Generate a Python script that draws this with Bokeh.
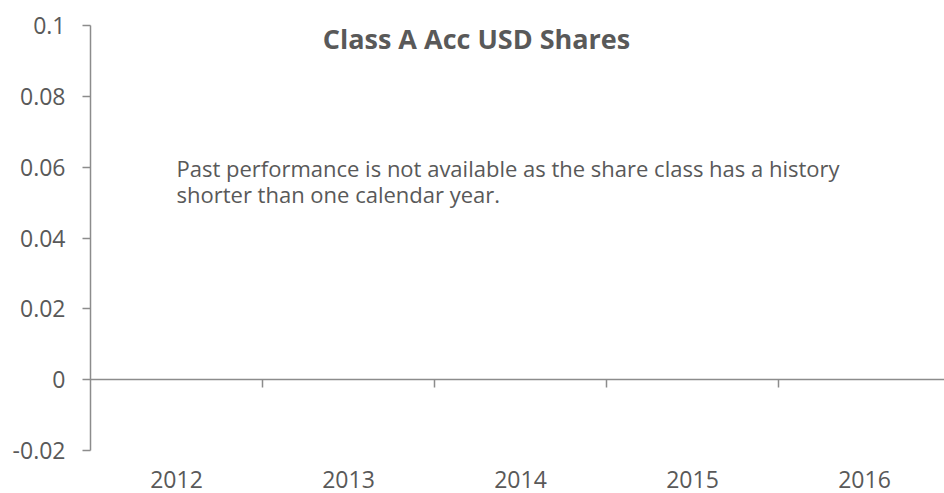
from bokeh.plotting import figure
from bokeh.models import (Range1d, LinearAxis, FixedTicker, CustomJSTickFormatter, Label)
from bokeh.embed import file_html
from bokeh.resources import INLINE

# ---- data ----
years = ["2012", "2013", "2014", "2015", "2016"]
returns = [None, None, None, None, None]   # no performance data available
y_ticks = [-0.02, 0.0, 0.02, 0.04, 0.06, 0.08, 0.1]
title_text = "Class A Acc USD Shares"
note_lines = ["Past performance is not available as the share class has a history",
              "shorter than one calendar year."]

FONT = "Open Sans"
TXT = "#595959"
AX = "#8c8c8c"

n = len(years)
x_end = (944 - 90) / 172.0
y_min, y_max = y_ticks[0], y_ticks[-1]
px_per_unit = 425.0 / (y_max - y_min)
y_bottom = y_max - 468.0 / px_per_unit

p = figure(width=944, height=493, output_backend="svg", toolbar_location=None,
           x_axis_location=None, x_range=Range1d(0, x_end),
           y_range=Range1d(y_bottom, y_max),
           min_border_left=90, min_border_right=0, min_border_top=25,
           min_border_bottom=0, outline_line_color=None,
           background_fill_color="white", border_fill_color="white")
for g in p.grid:
    g.visible = False

# y axis
ya = p.yaxis[0]
ya.bounds = (y_min, y_max)
ya.ticker = FixedTicker(ticks=y_ticks)
ya.formatter = CustomJSTickFormatter(code="return String(Math.round(tick*100)/100);")
ya.axis_line_color = AX
ya.axis_line_width = 1.5
ya.major_tick_line_color = AX
ya.major_tick_line_width = 1.5
ya.major_tick_in = 0
ya.major_tick_out = 8
ya.minor_tick_line_color = None
ya.major_label_standoff = 17
ya.major_label_text_font = FONT
ya.major_label_text_font_size = "23px"
ya.major_label_text_color = TXT

# zero line axis with category boundary ticks
za = LinearAxis(fixed_location=0, ticker=FixedTicker(ticks=list(range(1, n))),
                axis_line_color=AX, axis_line_width=1.5,
                major_tick_line_color=AX, major_tick_line_width=1.5,
                major_tick_in=0, major_tick_out=8, minor_tick_line_color=None,
                major_label_text_color=None, major_label_text_font_size="1px")
p.add_layout(za, "below")

# category labels axis at bottom
cat_ticks = [i + 0.5 for i in range(n)]
la = LinearAxis(fixed_location=y_min, ticker=FixedTicker(ticks=cat_ticks),
                major_label_overrides={t: y for t, y in zip(cat_ticks, years)},
                axis_line_color=None, major_tick_line_color=None,
                minor_tick_line_color=None, major_tick_in=0, major_tick_out=0,
                major_label_standoff=20, major_label_text_font=FONT,
                major_label_text_font_size="23px", major_label_text_color=TXT)
p.add_layout(la, "below")

def ypx(px):
    return y_max - (px - 25) / px_per_unit

def xpx(px):
    return (px - 90) / 172.0

p.add_layout(Label(x=xpx(476), y=ypx(38), text=title_text, text_align="center",
                   text_baseline="middle", text_font=FONT, text_font_size="27px",
                   text_font_style="bold", text_color=TXT))
p.add_layout(Label(x=xpx(176), y=ypx(167), text=note_lines[0], text_align="left",
                   text_baseline="alphabetic", text_font=FONT, text_font_size="22px",
                   text_color=TXT))
p.add_layout(Label(x=xpx(176), y=ypx(193), text=note_lines[1], text_align="left",
                   text_baseline="alphabetic", text_font=FONT, text_font_size="22px",
                   text_color=TXT))

open("out.html", "w").write(file_html(p, INLINE))
